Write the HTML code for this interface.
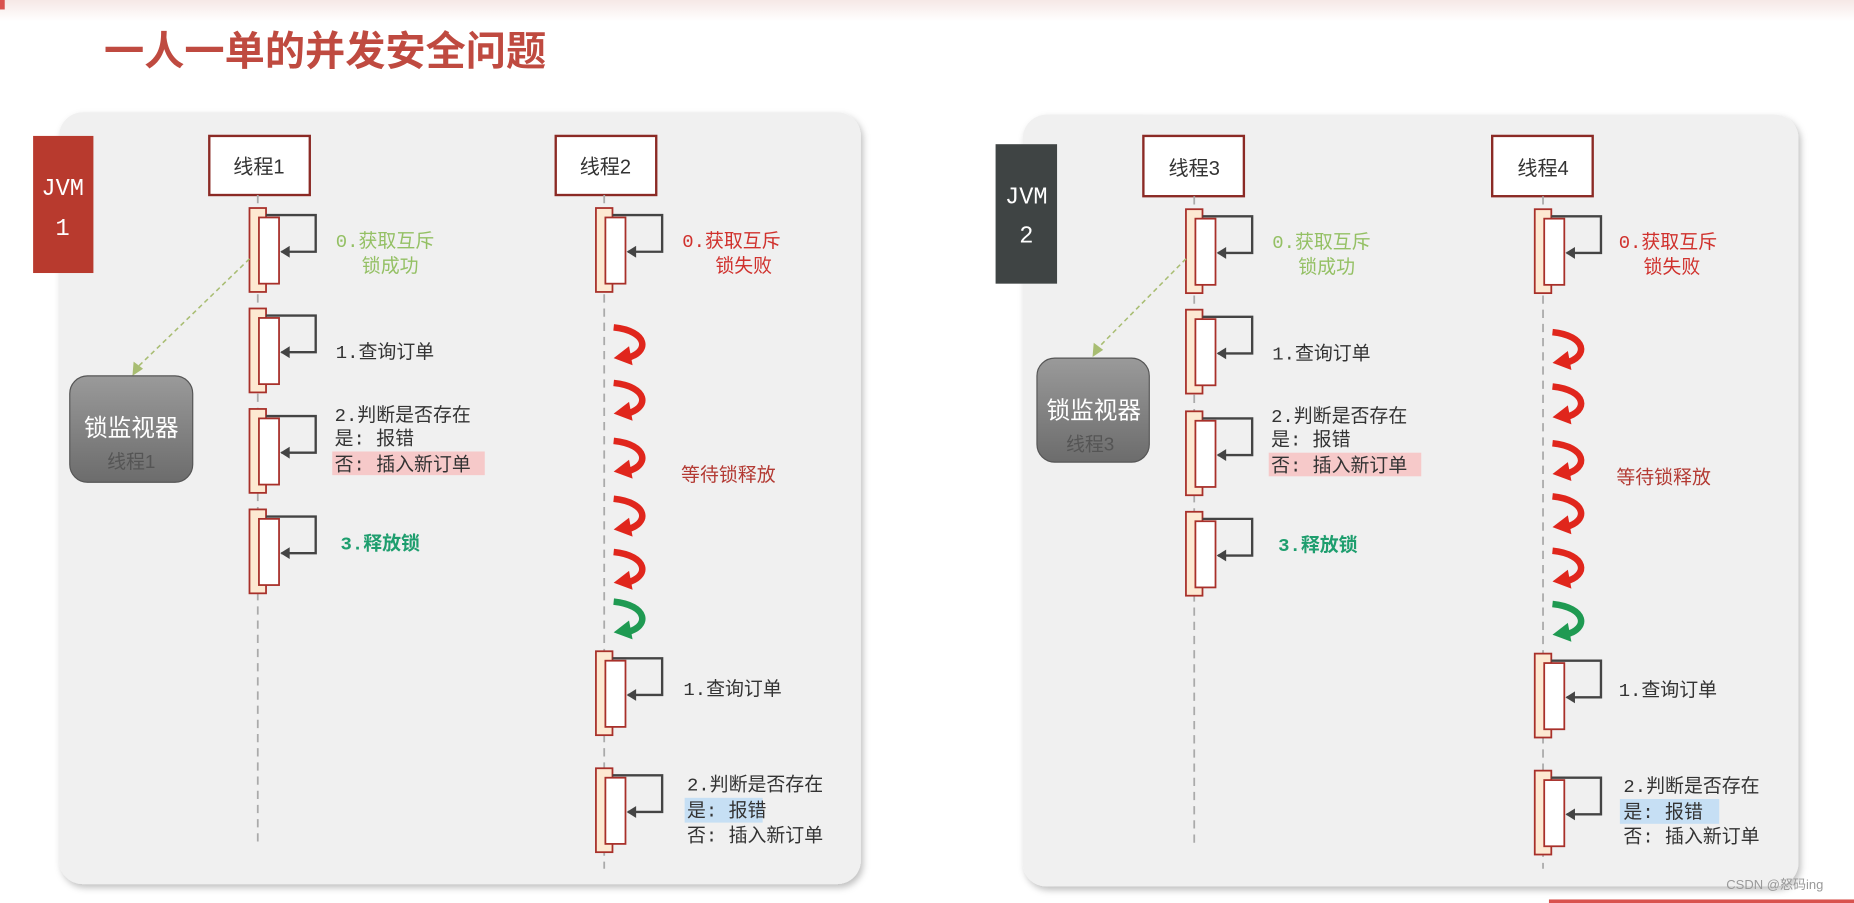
<!DOCTYPE html>
<html><head><meta charset="utf-8"><style>
html,body{margin:0;padding:0;background:#fff;width:1854px;height:903px;overflow:hidden}
svg{display:block}
text{font-family:"Liberation Mono","Noto Sans CJK SC",monospace;}
.cj{font-family:"Liberation Sans","Noto Sans CJK SC",sans-serif;}
</style></head><body>
<svg width="1854" height="903" viewBox="0 0 1568 764" preserveAspectRatio="none" xmlns="http://www.w3.org/2000/svg">
<defs>
<linearGradient id="top" x1="0" y1="0" x2="0" y2="1"><stop offset="0" stop-color="#f6e8e6"/><stop offset="1" stop-color="#fff"/></linearGradient>
<linearGradient id="mon" x1="0" y1="0" x2="0" y2="1"><stop offset="0" stop-color="#9a9a9a"/><stop offset="1" stop-color="#6c6c6c"/></linearGradient>
<filter id="sh" x="-5%" y="-5%" width="110%" height="110%"><feDropShadow dx="2" dy="3" stdDeviation="3" flood-color="#000" flood-opacity="0.25"/></filter>
<g id="act">
  <rect x="-7" y="0" width="14" height="71" fill="#fde9d2" stroke="#a8302a" stroke-width="1.5"/>
  <rect x="1" y="8" width="17" height="56" fill="#fff" stroke="#a8302a" stroke-width="1.5"/>
  <polyline points="7,6 49,6 49,37 20,37" fill="none" stroke="#444" stroke-width="2"/>
  <polygon points="19,37 27,32 27,42" fill="#444"/>
</g>
<g id="red">
  <path d="M-7,-1 C22,2 24,20 4,25" fill="none" stroke="#e0261c" stroke-width="5.5"/>
  <polygon points="-7,25 6,15 9,31" fill="#e0261c"/>
</g>
<g id="grn">
  <path d="M-7,-1 C22,2 24,20 4,25" fill="none" stroke="#1f9a52" stroke-width="5.5"/>
  <polygon points="-7,25 6,15 9,31" fill="#1f9a52"/>
</g>
</defs>
<rect x="0" y="0" width="1568" height="18" fill="url(#top)"/>
<rect x="0" y="0" width="4" height="8" fill="#d9534f"/>
<text class="cj" x="88" y="55" font-size="34" font-weight="bold" fill="#bf4a40">一人一单的并发安全问题</text>

<!-- LEFT PANEL -->
<rect x="50" y="95" width="678" height="653" rx="20" fill="#f0f0f0" filter="url(#sh)"/>
<rect x="28" y="115" width="51" height="116" fill="#b83a2e"/>
<text x="53" y="165" font-size="20" fill="#fff" text-anchor="middle">JVM</text>
<text x="53" y="199" font-size="20" fill="#fff" text-anchor="middle">1</text>

<rect x="177" y="115" width="85" height="50" fill="#fff" stroke="#8b2a25" stroke-width="2"/>
<text class="cj" x="219" y="147" font-size="17" fill="#333" text-anchor="middle">线程1</text>
<rect x="470" y="115" width="85" height="50" fill="#fff" stroke="#8b2a25" stroke-width="2"/>
<text class="cj" x="512" y="147" font-size="17" fill="#333" text-anchor="middle">线程2</text>

<line x1="218" y1="165" x2="218" y2="715" stroke="#aaa" stroke-width="1.5" stroke-dasharray="7,5"/>
<line x1="511" y1="165" x2="511" y2="735" stroke="#aaa" stroke-width="1.5" stroke-dasharray="7,5"/>

<use href="#act" x="218" y="176"/>
<use href="#act" x="218" y="261"/>
<use href="#act" x="218" y="346"/>
<use href="#act" x="218" y="431"/>
<use href="#act" x="511" y="176"/>
<use href="#act" x="511" y="551"/>
<use href="#act" x="511" y="650"/>

<use href="#red" x="526" y="278"/>
<use href="#red" x="526" y="325"/>
<use href="#red" x="526" y="374"/>
<use href="#red" x="526" y="423"/>
<use href="#red" x="526" y="468"/>
<use href="#grn" x="526" y="510"/>

<line x1="211" y1="219" x2="117" y2="310" stroke="#a8bd72" stroke-width="1.3" stroke-dasharray="4,3"/>
<polygon points="112,318 113,306 121,312" fill="#a8bd72"/>

<rect x="59" y="318" width="104" height="90" rx="15" fill="url(#mon)" stroke="#555" stroke-width="1"/>
<text class="cj" x="111" y="369" font-size="20" fill="#fff" text-anchor="middle">锁监视器</text>
<text class="cj" x="111" y="396" font-size="16" fill="#555" text-anchor="middle">线程1</text>

<text x="284" y="209" font-size="16" fill="#94c064">0.获取互斥</text>
<text x="306" y="230" font-size="16" fill="#94c064">锁成功</text>
<text x="284" y="303" font-size="16" fill="#333">1.查询订单</text>
<text x="283" y="356" font-size="16" fill="#333">2.判断是否存在</text>
<text x="283" y="376" font-size="16" fill="#333">是: 报错</text>
<rect x="281" y="382" width="129" height="20" fill="#f6c9c9"/>
<text x="283" y="398" font-size="16" fill="#333">否: 插入新订单</text>
<text x="288" y="465" font-size="16" fill="#1e9e6e" font-weight="bold">3.释放锁</text>

<text x="577" y="209" font-size="16" fill="#d0312d">0.获取互斥</text>
<text x="605" y="230" font-size="16" fill="#d0312d">锁失败</text>
<text x="576" y="407" font-size="16" fill="#b33a33">等待锁释放</text>
<text x="578" y="588" font-size="16" fill="#333">1.查询订单</text>
<text x="581" y="669" font-size="16" fill="#333">2.判断是否存在</text>
<rect x="579" y="675" width="66" height="21" fill="#c6dff4"/>
<text x="581" y="691" font-size="16" fill="#333">是: 报错</text>
<text x="581" y="712" font-size="16" fill="#333">否: 插入新订单</text>

<!-- RIGHT PANEL -->
<rect x="865" y="97" width="656" height="653" rx="20" fill="#f0f0f0" filter="url(#sh)"/>
<rect x="842" y="122" width="52" height="118" fill="#3f4444"/>
<text x="868" y="172" font-size="20" fill="#fff" text-anchor="middle">JVM</text>
<text x="868" y="205" font-size="20" fill="#fff" text-anchor="middle">2</text>

<rect x="967" y="115" width="85" height="51" fill="#fff" stroke="#8b2a25" stroke-width="2"/>
<text class="cj" x="1010" y="148" font-size="17" fill="#333" text-anchor="middle">线程3</text>
<rect x="1262" y="115" width="85" height="51" fill="#fff" stroke="#8b2a25" stroke-width="2"/>
<text class="cj" x="1305" y="148" font-size="17" fill="#333" text-anchor="middle">线程4</text>

<line x1="1010" y1="166" x2="1010" y2="715" stroke="#aaa" stroke-width="1.5" stroke-dasharray="7,5"/>
<line x1="1305" y1="166" x2="1305" y2="735" stroke="#aaa" stroke-width="1.5" stroke-dasharray="7,5"/>

<use href="#act" x="1010" y="177"/>
<use href="#act" x="1010" y="262"/>
<use href="#act" x="1010" y="348"/>
<use href="#act" x="1010" y="433"/>
<use href="#act" x="1305" y="177"/>
<use href="#act" x="1305" y="553"/>
<use href="#act" x="1305" y="652"/>

<use href="#red" x="1320" y="282"/>
<use href="#red" x="1320" y="328"/>
<use href="#red" x="1320" y="376"/>
<use href="#red" x="1320" y="421"/>
<use href="#red" x="1320" y="467"/>
<use href="#grn" x="1320" y="512"/>

<line x1="1003" y1="219" x2="929" y2="294" stroke="#a8bd72" stroke-width="1.3" stroke-dasharray="4,3"/>
<polygon points="924,302 925,290 933,296" fill="#a8bd72"/>

<rect x="877" y="303" width="95" height="88" rx="15" fill="url(#mon)" stroke="#555" stroke-width="1"/>
<text class="cj" x="925" y="354" font-size="20" fill="#fff" text-anchor="middle">锁监视器</text>
<text class="cj" x="922" y="381" font-size="16" fill="#555" text-anchor="middle">线程3</text>

<text x="1076" y="210" font-size="16" fill="#94c064">0.获取互斥</text>
<text x="1098" y="231" font-size="16" fill="#94c064">锁成功</text>
<text x="1076" y="304" font-size="16" fill="#333">1.查询订单</text>
<text x="1075" y="357" font-size="16" fill="#333">2.判断是否存在</text>
<text x="1075" y="377" font-size="16" fill="#333">是: 报错</text>
<rect x="1073" y="383" width="129" height="20" fill="#f6c9c9"/>
<text x="1075" y="399" font-size="16" fill="#333">否: 插入新订单</text>
<text x="1081" y="466" font-size="16" fill="#1e9e6e" font-weight="bold">3.释放锁</text>

<text x="1369" y="210" font-size="16" fill="#d0312d">0.获取互斥</text>
<text x="1390" y="231" font-size="16" fill="#d0312d">锁失败</text>
<text x="1367" y="409" font-size="16" fill="#b33a33">等待锁释放</text>
<text x="1369" y="589" font-size="16" fill="#333">1.查询订单</text>
<text x="1373" y="670" font-size="16" fill="#333">2.判断是否存在</text>
<rect x="1370" y="676" width="84" height="21" fill="#c6dff4"/>
<text x="1373" y="692" font-size="16" fill="#333">是: 报错</text>
<text x="1373" y="713" font-size="16" fill="#333">否: 插入新订单</text>

<text class="cj" x="1460" y="752" font-size="11" fill="#999">CSDN @怒码ing</text>
<rect x="1310" y="761" width="258" height="3" fill="#d9534f"/>
</svg>
</body></html>
